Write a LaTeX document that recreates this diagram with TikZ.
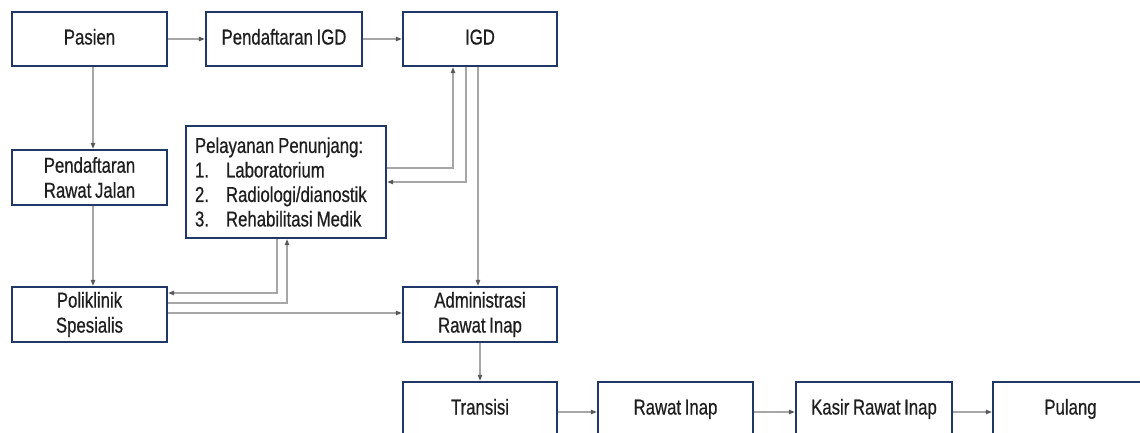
\documentclass[tikz,border=0pt]{standalone}
\usepackage{fontspec}
\setmainfont{Liberation Sans}[FakeStretch=0.78, FakeBold=0.6, WordSpace=0.78]
\usepackage{tikz}
\usetikzlibrary{arrows.meta}
\usetikzlibrary{positioning}
\definecolor{rsnavy}{HTML}{1F3868}
\definecolor{rsink}{HTML}{1E1E1E}
\definecolor{rsline}{HTML}{A6A6A6}
\definecolor{rstip}{HTML}{595959}
\tikzset{
  rsbox/.style={
    draw=rsnavy, fill=white, line width=2.4pt, inner sep=2pt,
    minimum width=155pt, minimum height=54pt, align=center,
    font=\fontsize{21.5pt}{25pt}\selectfont, text=rsink},
  rsone/.style={rsbox, text height=15.5pt, text depth=4.5pt},
  rsarrow/.style={
    -{Triangle[length=6pt, width=4.5pt, color=rstip]},
    draw=rsline, line width=1.1pt},
}
\newcommand{\rsitem}[2]{\mbox{\makebox[31pt][l]{#1}#2}}

\begin{document}
\begin{tikzpicture}[x=1pt, y=-1pt]
\clip (0, 0) rectangle (1140, 432);
\fill[white] (0, 0) rectangle (1140, 432);

% ---------------------------------------------------------- top row
\node[rsone] (pasien) at (89.5, 39) {Pasien};
\node[rsone, minimum width=156pt] (daftarigd) at (284, 39)
  {Pendaftaran IGD};
\node[rsone, minimum width=154pt] (igd) at (480, 39) {IGD};

% ------------------------------------------------------- left column
\node[rsbox, minimum height=55pt] (daftarrj) at (89.5, 177.5)
  {Pendaftaran\\Rawat Jalan};
\node[rsbox, minimum height=55pt] (poli) at (89.5, 314.5)
  {Poliklinik\\Spesialis};

% ----------------------------------------------------- support box
\node[rsbox, minimum width=200pt, minimum height=112pt,
  text width=182pt, align=left, inner xsep=9pt,
  font=\fontsize{21.5pt}{24.5pt}\selectfont] (penunjang) at (286, 182)
  {\mbox{Pelayanan\hspace{4pt}Penunjang:}\\
   \rsitem{1.}{Laboratorium}\\
   \rsitem{2.}{Radiologi/dianostik}\\
   \rsitem{3.}{Rehabilitasi\hspace{4pt}Medik}};

% --------------------------------------------------------- inpatient
\node[rsbox, minimum width=154pt, minimum height=55pt] (admin)
  at (480, 314.5) {Administrasi\\Rawat Inap};
\node[rsone, minimum width=154pt] (transisi) at (480, 409) {Transisi};
\node[rsone] (rawatinap) at (675.5, 409) {Rawat Inap};
\node[rsone, minimum width=156pt] (kasir) at (874, 409)
  {Kasir Rawat Inap};
\node[rsone] (pulang) at (1070.5, 409) {Pulang};

% -------------------------------------------------------- connectors
\draw[rsarrow] (pasien) -- (daftarigd);
\draw[rsarrow] (daftarigd) -- (igd);
\draw[rsarrow] ([xshift=3.5pt]pasien.south) -- ([xshift=3.5pt]daftarrj.north);
\draw[rsarrow] ([xshift=3.5pt]daftarrj.south) -- ([xshift=3.5pt]poli.north);
\draw[rsarrow] ([yshift=1.5pt]poli.east) -- ([yshift=1.5pt]admin.west);
\draw[rsarrow] ([yshift=14pt]penunjang.east) -| ([xshift=-27pt]igd.south);
\draw[rsarrow] ([xshift=-14pt]igd.south) |- (penunjang.east);
\draw[rsarrow] ([xshift=-2pt]igd.south) -- ([xshift=-2pt]admin.north);
\draw[rsarrow] ([xshift=-9pt]penunjang.south) |- ([yshift=21.5pt]poli.east);
\draw[rsarrow] ([yshift=11.5pt]poli.east) -| ([xshift=1pt]penunjang.south);
\draw[rsarrow] (admin) -- (transisi);
\draw[rsarrow] ([yshift=-3pt]transisi.east) -- ([yshift=-3pt]rawatinap.west);
\draw[rsarrow] ([yshift=-3pt]rawatinap.east) -- ([yshift=-3pt]kasir.west);
\draw[rsarrow] ([yshift=-3pt]kasir.east) -- ([yshift=-3pt]pulang.west);

\end{tikzpicture}
\end{document}
